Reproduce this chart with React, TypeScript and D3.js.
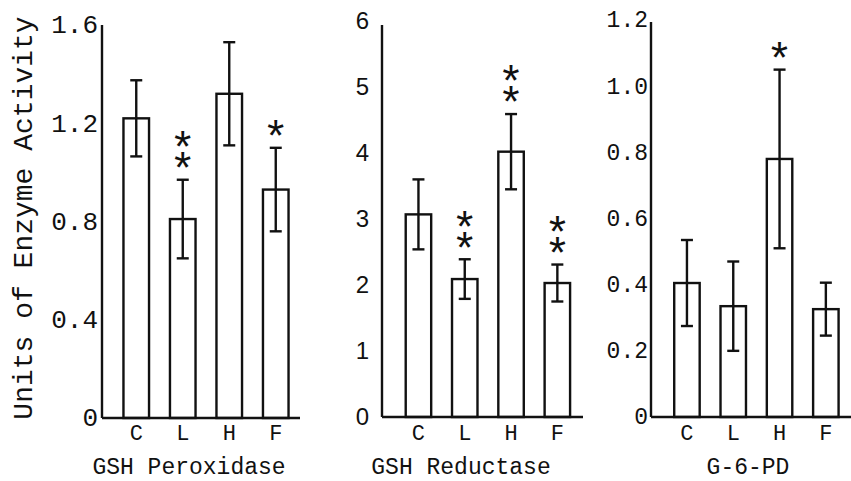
import React from "react";
import * as d3 from "d3";

// ---- data ----
const categories = ["C", "L", "H", "F"];

const peroxidaseMeans = [1.22, 0.81, 1.32, 0.93];
const peroxidaseErrors = [0.155, 0.16, 0.21, 0.17];
const peroxidaseStars = [0, 2, 0, 1];
const peroxidaseTicks = [0, 0.4, 0.8, 1.2, 1.6];
const peroxidaseTickLabels = ["0", "0.4", "0.8", "1.2", "1.6"];

const reductaseMeans = [3.07, 2.09, 4.02, 2.03];
const reductaseErrors = [0.53, 0.3, 0.57, 0.28];
const reductaseStars = [0, 2, 2, 2];
const reductaseTicks = [0, 1, 2, 3, 4, 5, 6];
const reductaseTickLabels = ["0", "1", "2", "3", "4", "5", "6"];

const g6pdMeans = [0.405, 0.335, 0.78, 0.326];
const g6pdErrors = [0.13, 0.135, 0.27, 0.08];
const g6pdStars = [0, 0, 1, 0];
const g6pdTicks = [0, 0.2, 0.4, 0.6, 0.8, 1.0, 1.2];
const g6pdTickLabels = ["0", "0.2", "0.4", "0.6", "0.8", "1.0", "1.2"];

const titles = ["GSH Peroxidase", "GSH Reductase", "G-6-PD"];
const yAxisTitle = "Units of Enzyme Activity";

const MONO = "'Liberation Mono', 'Courier New', monospace";
const SANS = "'Liberation Sans', Arial, sans-serif";

type PanelCfg = {
  title: string;
  means: number[];
  errors: number[];
  stars: number[];
  ticks: number[];
  tickLabels: string[];
  yMax: number;
  axisX: number;
  rangeTop: number;
  axisTop: number;
  base: number;
  bandStart: number;
  bandEnd: number;
  baseEnd: number;
  tickX: number;
  tickFont: string;
  tickSize: number;
  titleX: number;
};

const panels: PanelCfg[] = [
  {
    title: titles[0], means: peroxidaseMeans, errors: peroxidaseErrors, stars: peroxidaseStars,
    ticks: peroxidaseTicks, tickLabels: peroxidaseTickLabels, yMax: 1.6,
    axisX: 102, rangeTop: 25, axisTop: 25, base: 418, bandStart: 113, bandEnd: 299, baseEnd: 300,
    tickX: 98, tickFont: MONO, tickSize: 26, titleX: 189,
  },
  {
    title: titles[1], means: reductaseMeans, errors: reductaseErrors, stars: reductaseStars,
    ticks: reductaseTicks, tickLabels: reductaseTickLabels, yMax: 6,
    axisX: 382, rangeTop: 21, axisTop: 25, base: 417, bandStart: 395.3, bandEnd: 580.5, baseEnd: 583,
    tickX: 369, tickFont: SANS, tickSize: 24, titleX: 461,
  },
  {
    title: titles[2], means: g6pdMeans, errors: g6pdErrors, stars: g6pdStars,
    ticks: g6pdTicks, tickLabels: g6pdTickLabels, yMax: 1.2,
    axisX: 651, rangeTop: 20, axisTop: 22, base: 417, bandStart: 663.8, bandEnd: 849, baseEnd: 851,
    tickX: 648, tickFont: MONO, tickSize: 23, titleX: 748,
  },
];

const STROKE = 2.4;
const STAR_SIZE = 44;
const STAR_GAP = 21;

function Panel({ cfg }: { cfg: PanelCfg }) {
  const y = d3.scaleLinear().domain([0, cfg.yMax]).range([cfg.base, cfg.rangeTop]);
  const x = d3
    .scaleBand<string>()
    .domain(categories)
    .range([cfg.bandStart, cfg.bandEnd])
    .paddingInner(0.45)
    .paddingOuter(0.225);
  const bw = x.bandwidth();
  return (
    <g>
      {cfg.ticks.map((t, i) => (
        <text
          key={"t" + i}
          x={cfg.tickX}
          y={y(t) + cfg.tickSize * 0.32}
          textAnchor="end"
          fontFamily={cfg.tickFont}
          fontSize={cfg.tickSize}
          fill="#111"
        >
          {cfg.tickLabels[i]}
        </text>
      ))}
      {categories.map((c, i) => {
        const m = cfg.means[i];
        const e = cfg.errors[i];
        const cx = (x(c) as number) + bw / 2;
        const yTopErr = y(m + e);
        const n = cfg.stars[i];
        const topStarY = yTopErr - 19 - (n - 1) * STAR_GAP + STAR_SIZE * 0.53;
        return (
          <g key={c}>
            <rect
              x={x(c)}
              y={y(m)}
              width={bw}
              height={y(0) - y(m)}
              fill="#fff"
              stroke="#111"
              strokeWidth={STROKE}
            />
            <line x1={cx} x2={cx} y1={yTopErr} y2={y(m - e)} stroke="#111" strokeWidth={STROKE} />
            <line x1={cx - 6} x2={cx + 6} y1={yTopErr} y2={yTopErr} stroke="#111" strokeWidth={STROKE} />
            <line x1={cx - 6} x2={cx + 6} y1={y(m - e)} y2={y(m - e)} stroke="#111" strokeWidth={STROKE} />
            {n > 0 && (
              <text
                x={cx}
                y={topStarY}
                textAnchor="middle"
                fontFamily={MONO}
                fontSize={STAR_SIZE}
                fill="#111"
              >
                {d3.range(n).map((k) => (
                  <tspan key={k} x={cx} dy={k === 0 ? 0 : STAR_GAP}>
                    *
                  </tspan>
                ))}
              </text>
            )}
            <text
              x={cx}
              y={440}
              textAnchor="middle"
              fontFamily={MONO}
              fontSize={22}
              fill="#111"
            >
              {c}
            </text>
          </g>
        );
      })}
      <line x1={cfg.axisX} x2={cfg.axisX} y1={cfg.axisTop} y2={cfg.base} stroke="#111" strokeWidth={STROKE} />
      <line x1={cfg.axisX} x2={cfg.baseEnd} y1={cfg.base} y2={cfg.base} stroke="#111" strokeWidth={STROKE} />
      <text
        x={cfg.titleX}
        y={474}
        textAnchor="middle"
        fontFamily={MONO}
        fontSize={23}
        fill="#111"
      >
        {cfg.title}
      </text>
    </g>
  );
}

export default function App() {
  React.useEffect(() => {
    document.body.style.margin = "0";
  }, []);
  return (
    <svg
      width={851}
      height={481}
      viewBox="0 0 851 481"
      style={{ position: "absolute", left: 0, top: 0, background: "#fff" }}
    >
      <rect x={0} y={0} width={851} height={481} fill="#fff" />
      <text
        transform="translate(32,218) rotate(-90)"
        textAnchor="middle"
        fontFamily={MONO}
        fontSize={28}
        fill="#111"
      >
        {yAxisTitle}
      </text>
      {panels.map((p, i) => (
        <Panel key={i} cfg={p} />
      ))}
    </svg>
  );
}
